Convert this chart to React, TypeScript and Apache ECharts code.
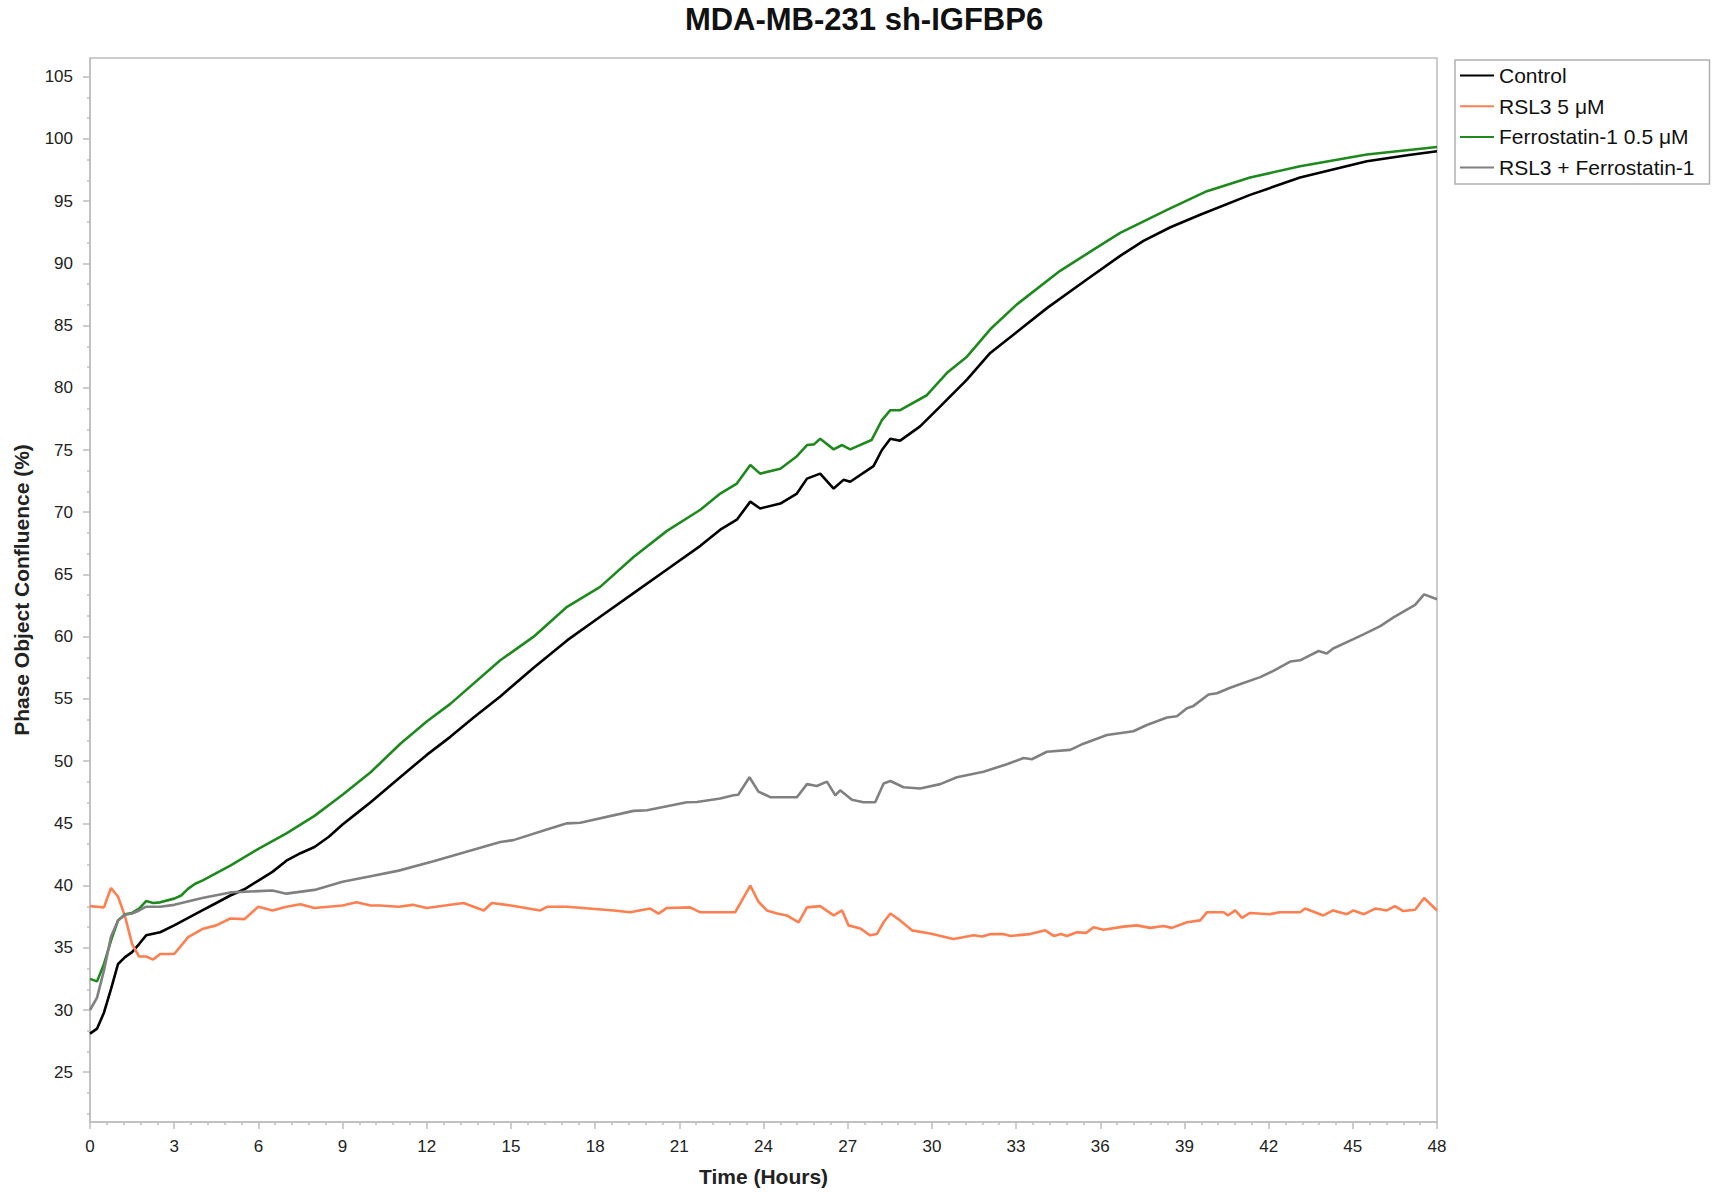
import React, { useEffect, useRef } from "react";
import * as echarts from "echarts";

const FONT = "Liberation Sans, Arial, sans-serif";

const chartTitle = "MDA-MB-231 sh-IGFBP6";
const seriesNames = ["Control", "RSL3 5 μM", "Ferrostatin-1 0.5 μM", "RSL3 + Ferrostatin-1"];
const seriesColors = ["#000000", "#FF7F50", "#1E8A1E", "#808080"];

const yMajorTicks = [25, 30, 35, 40, 45, 50, 55, 60, 65, 70, 75, 80, 85, 90, 95, 100, 105];
const yMin = 21;
const yMax = 106.5;

// [time (h), confluence (%)]
const control: number[][] = [
  [0, 28.1], [0.25, 28.5], [0.5, 29.8], [0.75, 31.7], [1, 33.7], [1.25, 34.25], [1.5, 34.65], [1.75, 35.3],
  [2, 36.0], [2.5, 36.25], [3, 36.8], [3.5, 37.4], [4, 38.0], [4.5, 38.6], [5, 39.2], [5.5, 39.7], [6, 40.4],
  [6.5, 41.1], [7, 42.0], [7.5, 42.6], [8, 43.1], [8.5, 43.9], [9, 44.9], [9.5, 45.8], [10, 46.7], [11, 48.6],
  [12, 50.5], [12.84, 51.95], [13.67, 53.5], [14.62, 55.2], [15.81, 57.5], [17, 59.7], [18.18, 61.6],
  [19.37, 63.5], [20.56, 65.4], [21.75, 67.3], [22.46, 68.6], [23.05, 69.4], [23.53, 70.85], [23.88, 70.3],
  [24.6, 70.7], [25.19, 71.5], [25.55, 72.7], [26.02, 73.1], [26.5, 71.9], [26.85, 72.6], [27.09, 72.45],
  [27.92, 73.7], [28.22, 75.0], [28.52, 75.9], [28.87, 75.75], [29.58, 76.9], [30.3, 78.5], [31.25, 80.65],
  [32.08, 82.8], [33.15, 84.7], [34.1, 86.4], [35.52, 88.7], [36.71, 90.6], [37.54, 91.8], [38.5, 92.9],
  [39.56, 93.9], [41.34, 95.5], [43.12, 96.9], [45.5, 98.2], [47, 98.7], [48, 99.0],
];

const rsl3: number[][] = [
  [0, 38.35], [0.25, 38.3], [0.5, 38.25], [0.6, 38.9], [0.75, 39.8], [1, 39.1], [1.25, 37.5], [1.5, 35.3],
  [1.75, 34.3], [2, 34.3], [2.25, 34.05], [2.5, 34.5], [3, 34.5], [3.5, 35.85], [4, 36.5], [4.5, 36.8],
  [5, 37.35], [5.5, 37.3], [6, 38.3], [6.5, 38.0], [7, 38.3], [7.5, 38.5], [8, 38.2], [9, 38.4], [9.5, 38.65],
  [10, 38.4], [10.34, 38.4], [11, 38.3], [11.5, 38.45], [12, 38.2], [13.31, 38.6], [14.03, 38.0], [14.32, 38.6],
  [15, 38.4], [16.05, 38.0], [16.3, 38.3], [17, 38.3], [18.66, 38.0], [19.25, 37.85], [19.96, 38.15],
  [20.26, 37.75], [20.56, 38.2], [21.39, 38.25], [21.75, 37.85], [22.99, 37.85], [23.53, 40.0], [23.82, 38.7],
  [24.12, 38.0], [24.48, 37.75], [24.83, 37.6], [25.25, 37.05], [25.55, 38.25], [26.02, 38.35], [26.5, 37.6],
  [26.8, 38.0], [27.03, 36.8], [27.45, 36.55], [27.8, 36.0], [28.04, 36.1], [28.28, 37.05], [28.52, 37.75],
  [28.87, 37.2], [29.29, 36.4], [29.94, 36.15], [30.77, 35.7], [31.49, 36.0], [31.79, 35.9], [32.1, 36.1],
  [32.55, 36.1], [32.8, 35.95], [33.5, 36.1], [34.04, 36.4], [34.34, 35.95], [34.6, 36.1], [34.81, 35.95],
  [35.17, 36.25], [35.5, 36.2], [35.76, 36.65], [36.12, 36.45], [36.83, 36.7], [37.3, 36.8], [37.78, 36.6],
  [38.26, 36.75], [38.55, 36.6], [39.09, 37.05], [39.56, 37.2], [39.8, 37.85], [40.4, 37.85], [40.55, 37.6],
  [40.81, 38.0], [41.05, 37.4], [41.34, 37.8], [42.05, 37.7], [42.4, 37.85], [43.12, 37.85], [43.3, 38.15],
  [43.95, 37.6], [44.3, 38.0], [44.79, 37.7], [45.02, 38.0], [45.4, 37.7], [45.8, 38.15], [46.21, 38.0],
  [46.5, 38.35], [46.8, 37.95], [47.22, 38.05], [47.54, 39.0], [48, 38.0],
];

const ferrostatin: number[][] = [
  [0, 32.5], [0.25, 32.3], [0.5, 33.7], [0.75, 35.6], [1, 37.2], [1.25, 37.7], [1.5, 37.8], [1.75, 38.15],
  [2, 38.75], [2.25, 38.6], [2.5, 38.65], [3, 38.95], [3.25, 39.2], [3.5, 39.75], [3.75, 40.15], [4, 40.4],
  [5, 41.6], [6, 42.95], [7, 44.2], [7.5, 44.9], [8, 45.6], [9, 47.3], [10, 49.1], [11.06, 51.4], [12.01, 53.2],
  [12.84, 54.6], [14.62, 58.1], [15.81, 60.0], [17, 62.4], [18.18, 64.0], [19.37, 66.4], [20.56, 68.5],
  [21.75, 70.2], [22.46, 71.5], [23.05, 72.3], [23.53, 73.8], [23.88, 73.1], [24.6, 73.5], [25.19, 74.5],
  [25.55, 75.4], [25.8, 75.45], [26.02, 75.9], [26.5, 75.05], [26.8, 75.4], [27.09, 75.05], [27.85, 75.8],
  [28.22, 77.4], [28.52, 78.2], [28.87, 78.2], [29.82, 79.4], [30.54, 81.2], [31.25, 82.5], [32.08, 84.7],
  [33.03, 86.7], [34.57, 89.4], [35.76, 91.1], [36.71, 92.45], [38.38, 94.3], [39.8, 95.8], [41.34, 96.9],
  [43.12, 97.8], [45.5, 98.75], [48, 99.35],
];

const rsl3Ferro: number[][] = [
  [0, 30.0], [0.25, 31.0], [0.5, 33.2], [0.75, 35.9], [1, 37.2], [1.25, 37.65], [1.5, 37.75], [1.75, 38.0],
  [2, 38.3], [2.5, 38.3], [3, 38.45], [4, 39.0], [5, 39.45], [6, 39.55], [6.5, 39.6], [7, 39.35], [8, 39.65],
  [9, 40.3], [10, 40.75], [11, 41.2], [12.24, 41.95], [14.62, 43.5], [15.09, 43.65], [16.28, 44.5], [17.0, 45.0],
  [17.47, 45.05], [19.37, 46.0], [19.85, 46.05], [21.27, 46.7], [21.63, 46.72], [22.46, 47.0], [22.93, 47.25],
  [23.1, 47.3], [23.5, 48.7], [23.82, 47.55], [24.24, 47.1], [25.19, 47.1], [25.55, 48.15], [25.9, 48.0],
  [26.26, 48.35], [26.56, 47.25], [26.73, 47.65], [27.15, 46.9], [27.56, 46.7], [27.98, 46.7], [28.28, 48.2],
  [28.52, 48.4], [28.99, 47.9], [29.58, 47.8], [30.3, 48.15], [30.89, 48.7], [31.84, 49.15], [32.67, 49.75],
  [33.27, 50.25], [33.56, 50.15], [34.1, 50.75], [34.93, 50.9], [35.4, 51.4], [36.24, 52.1], [37.18, 52.4],
  [37.66, 52.9], [38.38, 53.5], [38.73, 53.6], [39.09, 54.25], [39.3, 54.4], [39.86, 55.35], [40.16, 55.45],
  [40.63, 55.9], [41.0, 56.2], [41.7, 56.75], [42.17, 57.25], [42.77, 58.0], [43.12, 58.1], [43.78, 58.85],
  [44.07, 58.65], [44.3, 59.05], [45.02, 59.8], [45.4, 60.2], [45.98, 60.85], [46.45, 61.55], [47.22, 62.55],
  [47.54, 63.4], [48, 63.0],
];

const seriesData = [control, rsl3, ferrostatin, rsl3Ferro];

function minorYTicks(): number[] {
  const out: number[] = [];
  const step = yMajorTicks[1] - yMajorTicks[0];
  const first = yMajorTicks[0];
  for (let v = first - 2 * step; v <= yMajorTicks[yMajorTicks.length - 1] + step; v += step) {
    for (const f of [1 / 3, 2 / 3]) {
      const m = v + step * f;
      if (m >= yMin && m <= yMax) out.push(m);
    }
  }
  return out;
}

const AXIS_COLOR = "#bdbdbd";
const LABEL_COLOR = "#222222";

export default function App() {
  const ref = useRef<HTMLDivElement>(null);
  useEffect(() => {
    document.body.style.margin = "0";
    if (!ref.current) return;
    const chart = echarts.init(ref.current, undefined, { renderer: "svg" });
    const option: any = {
      animation: false,
      backgroundColor: "#ffffff",
      title: {
        text: chartTitle,
        left: 864,
        textAlign: "center",
        top: 4,
        padding: 0,
        textStyle: { fontFamily: FONT, fontWeight: "bold", fontSize: 31, color: "#111111" },
      },
      legend: {
        orient: "vertical",
        left: 1455,
        top: 60,
        padding: [4, 15, 5, 5],
        itemGap: 7.7,
        itemWidth: 34,
        itemHeight: 2,
        icon: "rect",
        borderColor: "#b0b0b0",
        borderWidth: 1.5,
        textStyle: { fontFamily: FONT, fontSize: 21, color: "#111111", lineHeight: 23 },
        data: seriesNames,
      },
      grid: {
        left: 90,
        right: 279,
        top: 58,
        bottom: 70,
        show: true,
        borderColor: AXIS_COLOR,
        borderWidth: 1.5,
      },
      xAxis: {
        type: "value",
        min: 0,
        max: 48,
        interval: 3,
        name: "Time (Hours)",
        nameLocation: "middle",
        nameGap: 44,
        nameTextStyle: { fontFamily: FONT, fontWeight: "bold", fontSize: 21, color: LABEL_COLOR },
        axisLine: { show: true, lineStyle: { color: AXIS_COLOR, width: 1.5 } },
        axisTick: { show: true, length: 7, lineStyle: { color: AXIS_COLOR, width: 1.5 } },
        minorTick: { show: true, splitNumber: 5, length: 3, lineStyle: { color: AXIS_COLOR, width: 1.5 } },
        splitLine: { show: false },
        axisLabel: { margin: 16, fontFamily: FONT, fontSize: 17, color: LABEL_COLOR },
      },
      yAxis: [
        {
          type: "value",
          min: yMin,
          max: yMax,
          name: "Phase Object Confluence (%)",
          nameLocation: "middle",
          nameGap: 58,
          nameTextStyle: { fontFamily: FONT, fontWeight: "bold", fontSize: 21, color: LABEL_COLOR },
          axisLine: { show: true, lineStyle: { color: AXIS_COLOR, width: 1.5 } },
          axisTick: { show: true, length: 7, customValues: yMajorTicks, lineStyle: { color: AXIS_COLOR, width: 1.5 } },
          splitLine: { show: false },
          axisLabel: { margin: 17, customValues: yMajorTicks, fontFamily: FONT, fontSize: 17, color: LABEL_COLOR },
        },
        {
          type: "value",
          min: yMin,
          max: yMax,
          position: "left",
          axisLine: { show: false },
          axisTick: { show: true, length: 3, customValues: minorYTicks(), lineStyle: { color: AXIS_COLOR, width: 1.5 } },
          splitLine: { show: false },
          axisLabel: { show: false },
        },
      ],
      series: seriesNames.map((name, i) => ({
        name,
        type: "line",
        yAxisIndex: 0,
        data: seriesData[i],
        showSymbol: false,
        symbol: "none",
        color: seriesColors[i],
        lineStyle: { width: 2.6, color: seriesColors[i] },
      })),
    };
    chart.setOption(option);
    return () => chart.dispose();
  }, []);
  return <div ref={ref} style={{ position: "fixed", left: 0, top: 0, width: 1716, height: 1192 }} />;
}
